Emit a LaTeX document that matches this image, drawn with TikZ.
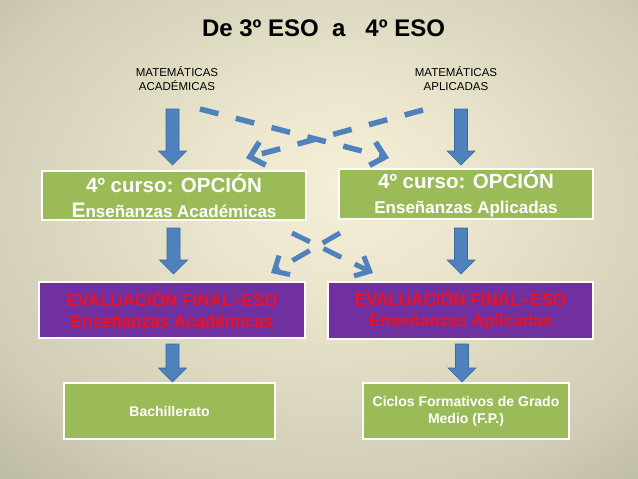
\documentclass[tikz,border=0pt]{standalone}
\usepackage{fontspec}
\setmainfont{Liberation Sans}
\usetikzlibrary{arrows.meta}
\definecolor{bgc}{HTML}{F4EFD6}
\definecolor{bgb}{HTML}{EBE6CD}
\definecolor{bgm}{HTML}{D0CCB5}
\definecolor{bge}{HTML}{9C9A8C}
\definecolor{bgk}{HTML}{7B7A6F}
\definecolor{optgreen}{HTML}{9BBB59}
\definecolor{evpurple}{HTML}{7030A0}
\definecolor{evred}{HTML}{F0101E}
\definecolor{arrblue}{HTML}{4F81BD}
\definecolor{arredge}{HTML}{3D6A9C}
\pgfdeclareradialshading{bgshade}{\pgfpoint{2bp}{6bp}}{color(0bp)=(bgc); color(10bp)=(bgb); color(30bp)=(bgm); color(52bp)=(bge); color(72bp)=(bgk)}
\tikzset{
  optbox/.style={draw=white, line width=1.6pt, fill=optgreen, text=white, font=\bfseries, align=center, inner sep=0pt},
  evbox/.style={draw=white, line width=1.6pt, fill=evpurple, text=evred, align=center, inner sep=0pt,
     font=\bfseries\fontsize{17}{21}\selectfont},
  endbox/.style={optbox, font=\bfseries\fontsize{14}{17}\selectfont},
  mathlbl/.style={align=center, inner sep=0pt, font=\fontsize{11.5}{14}\selectfont},
  blockarr/.style={fill=arrblue, draw=arredge, line width=0.6pt, line join=miter},
  dasharr/.style={draw=arrblue, line width=5.5pt, dash pattern=on 19pt off 18pt,
     -{Straight Barb[length=13pt,width=24pt]}},
  smalldash/.style={draw=arrblue, line width=5pt, dash pattern=on 20pt off 15pt,
     -{Straight Barb[length=12pt,width=22pt]}}
}
\newcommand\blockdown[4]{% x, ytop, yhead, ytip
  \filldraw[blockarr] (#1-6.5,#2) -- (#1+6.5,#2) -- (#1+6.5,#3) -- (#1+14,#3) -- (#1,#4)
     -- (#1-14,#3) -- (#1-6.5,#3) -- cycle;}
\begin{document}
\begin{tikzpicture}[x=1pt,y=-1pt]
\useasboundingbox (0,0) rectangle (638,479);
\shade[shading=bgshade] (0,0) rectangle (638,479);

% title
\node[anchor=base, text=black, font=\bfseries\fontsize{24}{28}\selectfont] (title)
  at (323.5,36) {De 3º ESO\ \ a\ \ \ 4º ESO};

% labels
\node[mathlbl] (matac) at (177,78.5) {MATEMÁTICAS\\ACADÉMICAS};
\node[mathlbl] (matap) at (456,78.5) {MATEMÁTICAS\\APLICADAS};

% boxes
\node[optbox, minimum width=264pt, minimum height=49pt, font=\bfseries\fontsize{17}{25}\selectfont] (opac) at (174,195.5)
  {{\fontsize{20.5}{25}\selectfont 4º curso: OPCIÓN}\\{\fontsize{21}{25}\selectfont E}nseñanzas Académicas};
\node[optbox, minimum width=254pt, minimum height=50pt, font=\bfseries\fontsize{17}{25}\selectfont] (opap) at (466,194)
  {{\fontsize{20.5}{25}\selectfont 4º curso: OPCIÓN}\\Enseñanzas Aplicadas};
\node[evbox, minimum width=266pt, minimum height=56pt] (evac) at (172,310)
  {EVALUACIÓN FINAL–ESO\\Enseñanzas Académicas};
\node[evbox, minimum width=265pt, minimum height=57pt] (evap) at (460.5,310.5)
  {EVALUACIÓN FINAL–ESO\\Enseñanzas Aplicadas};
\node[endbox, minimum width=211pt, minimum height=56pt] (bach) at (169.5,411) {Bachillerato};
\node[endbox, minimum width=206pt, minimum height=56pt] (ciclos) at (466,411)
  {Ciclos Formativos de Grado\\Medio (F.P.)};

% block arrows
\blockdown{172.5}{109}{151}{165}
\blockdown{461}{109}{151}{165}
\blockdown{173.5}{228}{260}{274}
\blockdown{461}{228}{260}{274}
\blockdown{172.5}{344}{368}{382}
\blockdown{462}{344}{368}{382}

% dashed cross arrows (top)
\coordinate (dA1) at (200,109);
\coordinate (dA2) at (389,158);
\coordinate (dB1) at (423,110);
\coordinate (dB2) at (246,158);
\draw[dasharr] (dA1) -- (dA2);
\draw[dasharr] (dB1) -- (dB2);

% dashed cross arrows (middle)
\coordinate (dC1) at (292,233);
\coordinate (dC2) at (373,273);
\coordinate (dD1) at (340,233);
\coordinate (dD2) at (271,273);
\draw[smalldash] (dC1) -- (dC2);
\draw[smalldash] (dD1) -- (dD2);
\end{tikzpicture}
\end{document}
